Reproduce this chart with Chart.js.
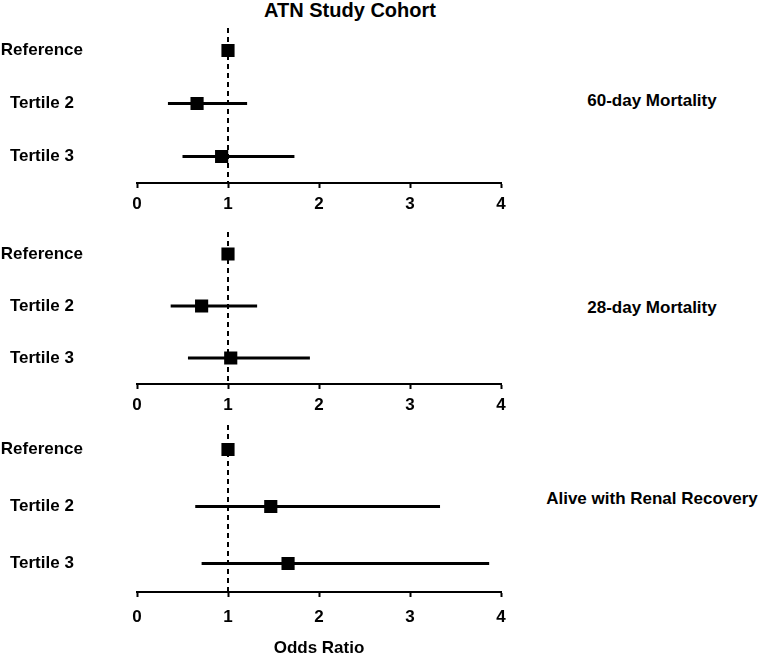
<!DOCTYPE html>
<html>
<head>
<meta charset="utf-8">
<title>ATN Study Cohort</title>
<script src="https://cdn.jsdelivr.net/npm/chart.js@4.4.0/dist/chart.umd.min.js"></script>
<style>
    html, body { margin: 0; padding: 0; background: #fff; }
    body { width: 761px; height: 654px; position: relative; overflow: hidden;
           font-family: "Liberation Sans", Arial, sans-serif; font-weight: bold; color: #000; }
    .panel { position: absolute; left: 0; width: 761px; }
    .txt { position: absolute; line-height: 20px; white-space: nowrap; transform: translate(-50%, -50%); }
    #title { font-size: 20px; left: 350px; top: 10px; }
    .outcome { font-size: 17px; left: 652px; }
</style>
</head>
<body>
<div id="title" class="txt">ATN Study Cohort</div>
<div class="txt outcome" style="top:101px">60-day Mortality</div>
<div class="txt outcome" style="top:308px">28-day Mortality</div>
<div class="txt outcome" style="top:499px">Alive with Renal Recovery</div>

<div class="panel" style="top:24px;height:195px"><canvas id="p60"></canvas></div>
<div class="panel" style="top:228px;height:192px"><canvas id="p28"></canvas></div>
<div class="panel" style="top:421px;height:239px"><canvas id="pRR"></canvas></div>

<script>
const rowLabels = ['Reference', 'Tertile 2', 'Tertile 3'];
const xTicks = [0, 1, 2, 3, 4];
const refLine = 1;

// odds ratios with 95% CI
const or60 = [1, 0.66, 0.93];
const lo60 = [1, 0.34, 0.50];
const hi60 = [1, 1.21, 1.73];

const or28 = [1, 0.71, 1.03];
const lo28 = [1, 0.37, 0.56];
const hi28 = [1, 1.32, 1.90];

const orRR = [1, 1.47, 1.66];
const loRR = [1, 0.64, 0.71];
const hiRR = [1, 3.33, 3.87];

Chart.defaults.font.family = '"Liberation Sans", Arial, sans-serif';
Chart.defaults.font.weight = 'bold';
Chart.defaults.font.size = 17;
Chart.defaults.color = '#000';

const refLinePlugin = {
    id: 'refLine',
    beforeDatasetsDraw(chart) {
        const { ctx, chartArea, scales } = chart;
        const x = scales.x.getPixelForValue(refLine);
        ctx.save();
        ctx.strokeStyle = '#000';
        ctx.lineWidth = 2;
        ctx.setLineDash([5, 4]);
        ctx.beginPath();
        ctx.moveTo(x, chartArea.top + 4);
        ctx.lineTo(x, chartArea.bottom);
        ctx.stroke();
        ctx.restore();
    }
};

function makePanel(canvasId, est, lo, hi, axisHeight, tickPad, withTitle) {
    const ciSets = rowLabels.map((lab, i) => ({
        type: 'line',
        data: [{ x: lo[i], y: lab }, { x: hi[i], y: lab }],
        borderColor: '#000',
        borderWidth: 3,
        pointRadius: 0,
        showLine: true
    }));

    return new Chart(document.getElementById(canvasId), {
        type: 'scatter',
        data: {
            datasets: [...ciSets, {
                data: rowLabels.map((lab, i) => ({ x: est[i], y: lab })),
                pointStyle: 'rect',
                pointRadius: 9.3,
                pointHoverRadius: 9.3,
                backgroundColor: '#000',
                borderColor: '#000',
                borderWidth: 0
            }]
        },
        options: {
            responsive: true,
            maintainAspectRatio: false,
            animation: false,
            layout: { autoPadding: false, padding: { left: 0, right: 260, top: 0, bottom: 0 } },
            plugins: { legend: { display: false }, tooltip: { enabled: false } },
            scales: {
                y: {
                    type: 'category',
                    labels: rowLabels,
                    offset: true,
                    grid: { display: false, drawTicks: false },
                    border: { display: false },
                    ticks: { crossAlign: 'center', padding: 54 },
                    afterFit(scale) {
                        scale.width = 137;
                        scale.paddingTop = 0;
                        scale.paddingBottom = 0;
                    }
                },
                x: {
                    type: 'linear',
                    min: xTicks[0],
                    max: xTicks[xTicks.length - 1],
                    afterBuildTicks(scale) {
                        scale.ticks = xTicks.map(v => ({ value: v }));
                    },
                    grid: { drawOnChartArea: false, drawTicks: true, tickLength: 5, tickWidth: 2, color: '#000' },
                    border: { display: true, color: '#000', width: 2 },
                    ticks: { padding: tickPad },
                    title: {
                        display: withTitle,
                        text: 'Odds Ratio',
                        padding: { top: 0, bottom: 1 }
                    },
                    afterFit(scale) {
                        scale.height = axisHeight;
                    }
                }
            }
        },
        plugins: [refLinePlugin]
    });
}

makePanel('p60', or60, lo60, hi60, 36, 6, false);
makePanel('p28', or28, lo28, hi28, 36, 6, false);
makePanel('pRR', orRR, loRR, hiRR, 68, 10, true);
</script>
</body>
</html>
